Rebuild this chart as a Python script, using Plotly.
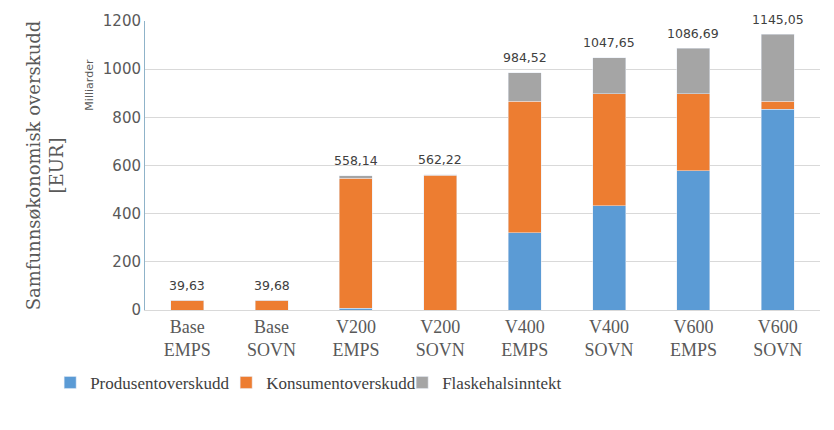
import plotly.graph_objects as go

categories = ["Base<br>EMPS", "Base<br>SOVN", "V200<br>EMPS", "V200<br>SOVN",
              "V400<br>EMPS", "V400<br>SOVN", "V600<br>EMPS", "V600<br>SOVN"]
produsent = [0, 0, 8, 0, 320, 433, 578, 833]
konsument = [39.63, 39.68, 540, 560, 547, 465, 320, 34]
flaskehals = [0, 0, 10.14, 2.22, 117.52, 149.65, 188.69, 278.05]
totals = [39.63, 39.68, 558.14, 562.22, 984.52, 1047.65, 1086.69, 1145.05]
total_labels = ["39,63", "39,68", "558,14", "562,22", "984,52", "1047,65", "1086,69", "1145,05"]

serif = "DejaVu Serif"
serif2 = "Liberation Serif"
sans = "DejaVu Sans"

fig = go.Figure()
fig.add_trace(go.Bar(x=categories, y=produsent, name="Produsentoverskudd", marker_color="#5b9bd5"))
fig.add_trace(go.Bar(x=categories, y=konsument, name="Konsumentoverskudd", marker_color="#ed7d31"))
fig.add_trace(go.Bar(x=categories, y=flaskehals, name="Flaskehalsinntekt", marker_color="#a5a5a5"))

for c, t, lab in zip(categories, totals, total_labels):
    fig.add_annotation(x=c, y=t, text=lab, showarrow=False, yshift=15,
                       font=dict(family=sans, size=12.5, color="#404040"))

fig.add_annotation(xref="paper", yref="paper", x=-0.095, y=0.878, text="Milliarder",
                   textangle=-90, showarrow=False, font=dict(family=sans, size=11, color="#595959"))

fig.update_layout(
    width=834, height=430,
    barmode="stack", bargap=0.61,
    plot_bgcolor="white", paper_bgcolor="white",
    margin=dict(l=145, r=14, t=16, b=120),
    showlegend=True,
    legend=dict(orientation="h", x=-0.1405, xanchor="left", y=-0.19, yanchor="top",
                font=dict(family=serif2, size=17, color="#404040"),
                itemwidth=30, traceorder="normal",
                entrywidth=131, entrywidthmode="pixels"),
    yaxis=dict(range=[0, 1200], dtick=200, gridcolor="#d9d9d9", gridwidth=1,
               showline=True, linecolor="#8fb3c9", linewidth=1,
               tickfont=dict(family=sans, size=15, color="#595959"),
               ticks="", zeroline=False,
               title=dict(text="Samfunnsøkonomisk overskudd<br>[EUR]",
                          font=dict(family=serif, size=18, color="#595959"), standoff=34)),
    xaxis=dict(showline=True, linecolor="#d9d9d9", linewidth=1,
               tickfont=dict(family=serif2, size=18, color="#595959")),
)

fig.write_html("out.html")
